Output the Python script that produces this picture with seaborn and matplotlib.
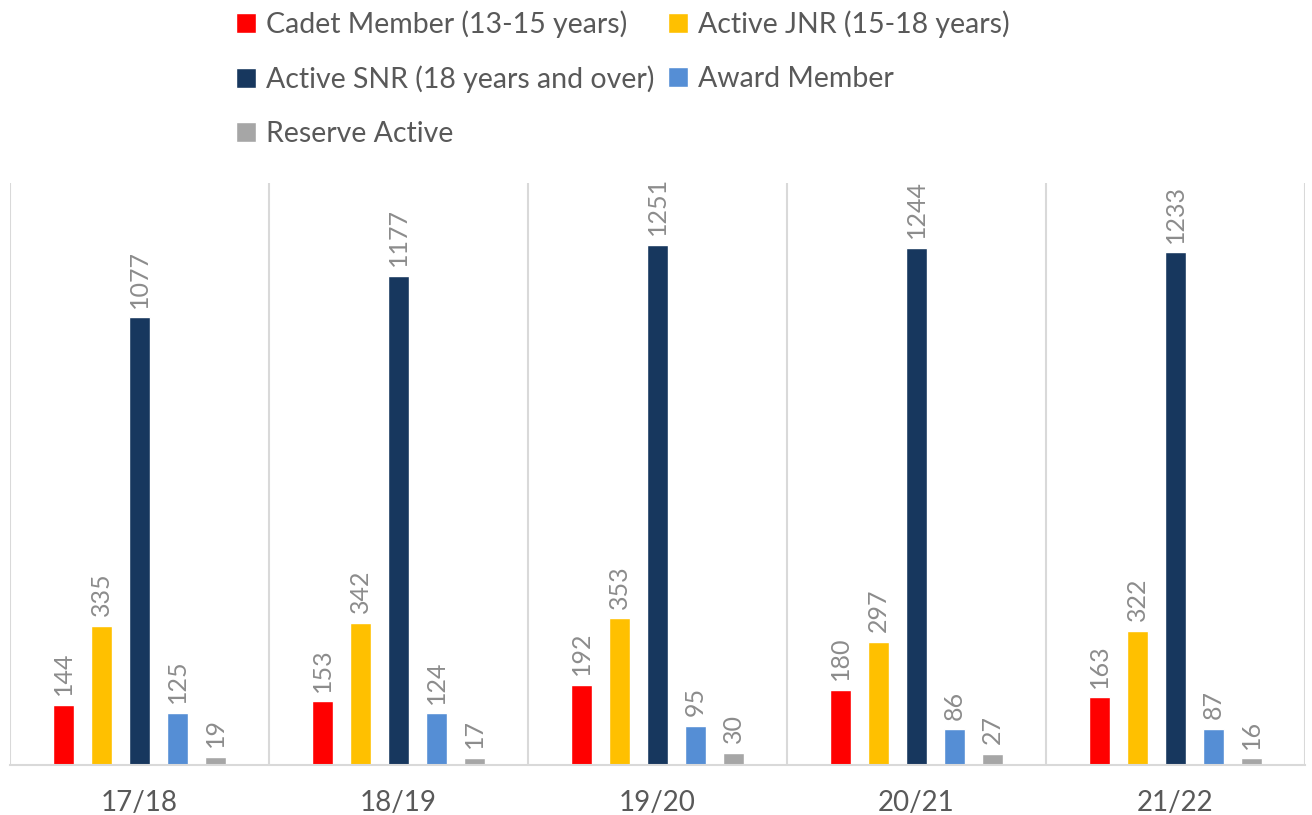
import numpy as np
import pandas as pd
import matplotlib.pyplot as plt
import seaborn as sns

# Chart data
seasons = ['17/18', '18/19', '19/20', '20/21', '21/22']
series_names = ['Cadet Member (13-15 years)', 'Active JNR (15-18 years)',
                'Active SNR (18 years and over)', 'Award Member', 'Reserve Active']
cadet = [144, 153, 192, 180, 163]
active_jnr = [335, 342, 353, 297, 322]
active_snr = [1077, 1177, 1251, 1244, 1233]
award = [125, 124, 95, 86, 87]
reserve = [19, 17, 30, 27, 16]
colors = ['#ff0000', '#ffc000', '#17375e', '#558ed5', '#a6a6a6']

rows = []
for name, vals in zip(series_names, [cadet, active_jnr, active_snr, award, reserve]):
    for s, v in zip(seasons, vals):
        rows.append({'Season': s, 'Type': name, 'Members': v})
df = pd.DataFrame(rows)

sns.set_style('white')
plt.rcParams['font.family'] = ['Lato', 'DejaVu Sans']

fig = plt.figure(figsize=(13.12, 8.15), dpi=100)
ax = fig.add_axes([10 / 1312, 50 / 815, 1295 / 1312, 582 / 815])

sns.barplot(data=df, x='Season', y='Members', hue='Type', order=seasons,
            hue_order=series_names, palette=colors, width=0.734, gap=0.47,
            saturation=1, ax=ax, legend=True)

for c in ax.containers:
    ax.bar_label(c, rotation=90, padding=7, color='#8c8c8c', fontsize=18)

ax.set_ylim(0, 1400)
ax.set_xlim(-0.5, len(seasons) - 0.5)
for i in range(len(seasons) + 1):
    ax.axvline(i - 0.5, color='#d9d9d9', lw=1.5, zorder=0)
for side in ['top', 'right', 'left']:
    ax.spines[side].set_visible(False)
ax.spines['bottom'].set_color('#d9d9d9')
ax.spines['bottom'].set_linewidth(1.5)
ax.set_yticks([])
ax.set_xlabel('')
ax.set_ylabel('')
ax.tick_params(axis='x', length=0, labelsize=20, labelcolor='#595959', pad=18)

# legend filled row by row, 2 columns
handles, labels = ax.get_legend_handles_labels()
ax.get_legend().remove()
order = [0, 2, 4, 1, 3]
fig.legend([handles[i] for i in order], [labels[i] for i in order],
           loc='upper left', bbox_to_anchor=(210 / 1312, 1.019),
           ncol=2, frameon=False, fontsize=20.5, labelcolor='#595959',
           handlelength=0.7, handleheight=0.7, handletextpad=0.35,
           columnspacing=0.5, labelspacing=0.98)

fig.savefig('out.png', dpi=100)
